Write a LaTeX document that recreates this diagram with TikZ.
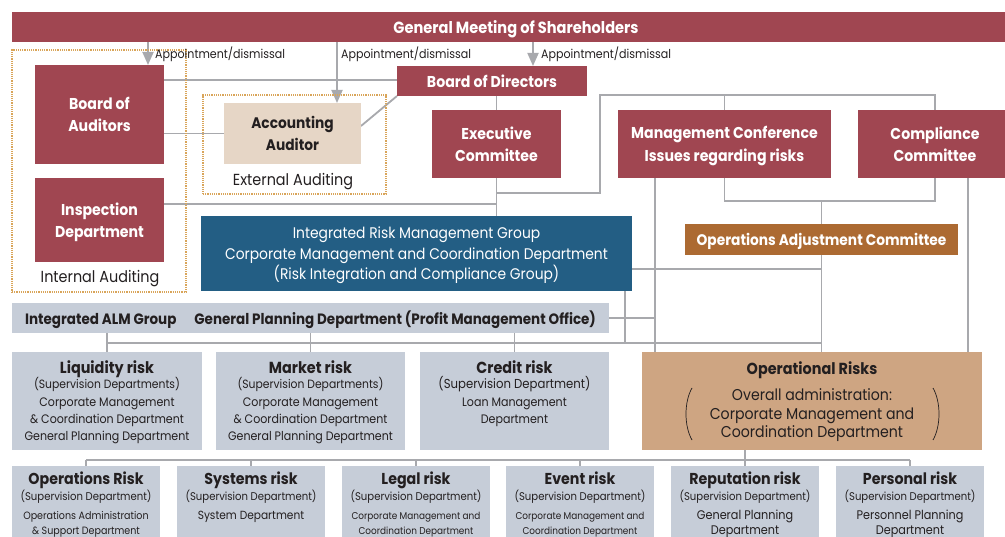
\documentclass[tikz,border=0pt]{standalone}
\usepackage{fontspec}
\setmainfont[FakeStretch=0.9]{Poppins}
\usetikzlibrary{arrows.meta,backgrounds}
\definecolor{maroon}{HTML}{A04651}
\definecolor{beige}{HTML}{E6D6C6}
\definecolor{rblue}{HTML}{235E84}
\definecolor{oadj}{HTML}{AC6A32}
\definecolor{oprc}{HTML}{CEA582}
\definecolor{gbox}{HTML}{C6CDD8}
\definecolor{lgrey}{HTML}{A8A9AD}
\definecolor{dotc}{HTML}{D9A55A}
\definecolor{ink}{HTML}{231F20}
\newcommand\rttl[1]{{\fontsize{16}{18}\selectfont\bfseries #1}}
\newcommand\bttl[1]{{\fontsize{15.8}{18}\selectfont\bfseries #1}}
\newcommand\rsub[1]{{\fontsize{12}{14}\selectfont #1}}
\newcommand\bsub[1]{{\fontsize{11.2}{14}\selectfont #1}}
\newcommand\fsz[2]{{\fontsize{#1}{15}\selectfont #2}}
\begin{document}
\begin{tikzpicture}[x=1pt,y=-1pt,
  conn/.style={draw=lgrey,line width=1.8pt},
  arr/.style={draw=lgrey,line width=1.8pt,-{Triangle[width=11pt,length=13pt]}},
  boxbase/.style={inner sep=0pt,outer sep=0pt,align=center},
  mbox/.style={boxbase,fill=maroon,text=white,text depth=0pt,font=\fontsize{15.7}{22.5}\selectfont\bfseries},
  gbx/.style={boxbase,fill=gbox},
  rtxt/.style={boxbase,anchor=north,text=ink,font=\fontsize{12.3}{16.5}\selectfont},
  btxt/.style={boxbase,anchor=north,text=ink,font=\fontsize{11}{15}\selectfont},
  lbl/.style={inner sep=0pt,text=ink,font=\fontsize{12.3}{13}\selectfont},
  audlbl/.style={inner sep=0pt,text=ink,font=\fontsize{16}{18}\selectfont},
  frame/.style={draw=dotc,densely dotted,line width=1.2pt,inner sep=0pt}
]
\useasboundingbox (0,0) rectangle (1005,537);

% frames
\node[frame,minimum width=174pt,minimum height=242pt] (intf) at (99,171) {};
\node[frame,minimum width=183pt,minimum height=99pt] (extf) at (294.5,144.5) {};

% top
\node[mbox,font=\fontsize{16.2}{20}\selectfont\bfseries,minimum width=1008pt,minimum height=30pt] (gms) at (516,27) {General Meeting of Shareholders};
\node[lbl,anchor=west] (ap1) at (155,54.5) {Appointment/dismissal};
\node[lbl,anchor=west] (ap2) at (341,54.5) {Appointment/dismissal};
\node[lbl,anchor=west] (ap3) at (541,54.5) {Appointment/dismissal};

\node[mbox,minimum width=129pt,minimum height=99pt] (boa) at (99.5,114.5) {Board of\\Auditors};
\node[mbox,minimum width=129pt,minimum height=84pt] (insp) at (99.5,220) {Inspection\\Department};
\node[audlbl] (ialab) at (100,279) {Internal Auditing};
\node[boxbase,fill=beige,text=ink,text depth=0pt,font=\fontsize{15.3}{22}\selectfont\bfseries,minimum width=137pt,minimum height=61pt] (acc) at (292.5,133.5) {Accounting\\Auditor};
\node[audlbl] (ealab) at (293,181.5) {External Auditing};

\node[mbox,minimum width=190pt,minimum height=30pt] (bod) at (492,81) {Board of Directors};
\node[mbox,minimum width=129pt,minimum height=68pt] (exec) at (496.5,144) {Executive\\Committee};
\node[mbox,minimum width=213pt,minimum height=68pt] (mc) at (724.5,144) {Management Conference\\Issues regarding risks};
\node[mbox,minimum width=154pt,minimum height=68pt] (cc) at (935,144) {Compliance\\Committee};

\node[boxbase,fill=rblue,text=white,text depth=0pt,font=\fontsize{15.4}{20.5}\selectfont,minimum width=431pt,minimum height=75pt] (irm) at (416.5,253.5) {Integrated Risk Management Group\\Corporate Management and Coordination Department\\(Risk Integration and Compliance Group)};
\node[boxbase,fill=oadj,text=white,text depth=0pt,font=\fontsize{15.3}{17}\selectfont\bfseries,minimum width=273pt,minimum height=31pt] (oac) at (821.5,239.5) {Operations Adjustment Committee};

\node[gbx,text=ink,text depth=0pt,font=\fontsize{15}{17}\selectfont\bfseries,minimum width=597pt,minimum height=30pt] (alm) at (310.5,318) {Integrated ALM Group\hspace{18pt}General Planning Department (Profit Management Office)};

% middle row
\node[gbx,minimum width=190pt,minimum height=98pt] (liq) at (107,401) {};
\node[gbx,minimum width=189pt,minimum height=98pt] (mkt) at (310.5,401) {};
\node[gbx,minimum width=189pt,minimum height=98pt] (cred) at (514.5,401) {};
\node[boxbase,fill=oprc,minimum width=340pt,minimum height=98pt] (opr) at (812,401) {};
\node[rtxt] (liqt) at (107,361) {\rttl{Liquidity risk}\\[-2pt]\rsub{(Supervision Departments)}\\[2pt]Corporate Management\\\& Coordination Department\\[1pt]General Planning Department};
\node[rtxt] (mktt) at (310.5,361) {\rttl{Market risk}\\[-2pt]\rsub{(Supervision Departments)}\\[2pt]Corporate Management\\\& Coordination Department\\[1pt]General Planning Department};
\node[rtxt] (credt) at (514.5,361) {\rttl{Credit risk}\\[-2pt]{\fontsize{13}{14}\selectfont(Supervision Department)}\\[2pt]Loan Management\\Department};
\node[boxbase,anchor=north,text=ink,font=\fontsize{15.7}{18.5}\selectfont] (oprt) at (812,361.5) {{\fontsize{16}{18}\selectfont\bfseries Operational Risks}\\[8pt]Overall administration:\\Corporate Management and\\Coordination Department};
\draw[ink,line width=0.7pt] (692,388) .. controls (684,402) and (684,426) .. (692,440);
\draw[ink,line width=0.7pt] (933,388) .. controls (941,402) and (941,426) .. (933,440);

% bottom row
\node[gbx,minimum width=148pt,minimum height=79pt] (ops) at (86,505.5) {};
\node[gbx,minimum width=148pt,minimum height=79pt] (sys) at (251,505.5) {};
\node[gbx,minimum width=148pt,minimum height=79pt] (leg) at (416,505.5) {};
\node[gbx,minimum width=148pt,minimum height=79pt] (evt) at (580,505.5) {};
\node[gbx,minimum width=148pt,minimum height=79pt] (rep) at (745,505.5) {};
\node[gbx,minimum width=148pt,minimum height=79pt] (per) at (910,505.5) {};
\node[btxt] (opst) at (86,471.5) {\bttl{Operations Risk}\\[1pt]\bsub{(Supervision Department)}\\[4pt]\fsz{10.6}{Operations Administration}\\\fsz{10.6}{\& Support Department}};
\node[btxt] (syst) at (251,471.5) {\bttl{Systems risk}\\[1pt]\bsub{(Supervision Department)}\\[4pt]\fsz{11.8}{System Department}};
\node[btxt] (legt) at (416,471.5) {\bttl{Legal risk}\\[1pt]\bsub{(Supervision Department)}\\[4pt]\fsz{9.9}{Corporate Management and}\\\fsz{9.9}{Coordination Department}};
\node[btxt] (evtt) at (580,471.5) {\bttl{Event risk}\\[1pt]\bsub{(Supervision Department)}\\[4pt]\fsz{9.9}{Corporate Management and}\\\fsz{9.9}{Coordination Department}};
\node[btxt] (rept) at (745,471.5) {\bttl{Reputation risk}\\[1pt]\bsub{(Supervision Department)}\\[4pt]\fsz{12.5}{General Planning}\\\fsz{12.5}{Department}};
\node[btxt] (pert) at (910,471.5) {\bttl{Personal risk}\\[1pt]\bsub{(Supervision Department)}\\[4pt]\fsz{12.5}{Personnel Planning}\\\fsz{12.5}{Department}};

% helper coordinates
\coordinate (c148) at (148,0);
\coordinate (c337) at (337,0);
\coordinate (c533) at (533,0);
\coordinate (y80) at (0,80);
\coordinate (j193) at (496.5,193);
\coordinate (j204) at (496.5,204);
\coordinate (k1) at (600,95);
\coordinate (k2) at (935,201);
\coordinate (c655) at (655,0);
\coordinate (c968) at (968,0);
\coordinate (c625) at (625,0);
\coordinate (y269) at (0,269);
\coordinate (y343) at (0,343);
\coordinate (y460) at (0,460);

\begin{scope}[on background layer]
\draw[arr] (gms.south -| c148) -- (boa.north -| c148);
\draw[arr] (gms.south -| c337) -- (acc.north -| c337);
\draw[arr] (gms.south -| c533) -- (bod.north -| c533);
\draw[conn] (boa.east |- y80) -- (bod.west |- y80);
\draw[conn] (boa.east |- acc.west) -- (acc.west);
\draw[conn] ([yshift=7.5pt]acc.east) -- (bod.south west);
\draw[conn] (bod.south -| exec.north) -- (exec.north);
\draw[conn] (exec.south) -- (exec.south |- irm.north);
\draw[conn] (insp.east |- j204) -- (j204);
\draw[conn] (j193) -| (k1) -| (cc.north);
\draw[conn] (mc.north) -- (mc.north |- k1);
\draw[conn] (mc.south -| c655) -- (opr.north -| c655);
\draw[conn] (mc.south) |- (k2) -- (cc.south);
\draw[conn] (oac.north |- k2) -- (oac.north);
\draw[conn] (oac.south) -- (oac.south |- opr.north);
\draw[conn] (cc.south -| c968) -- (opr.north -| c968);
\draw[conn] (irm.east |- y269) -- (oac.south |- y269);
\draw[conn] (irm.south -| c625) -- (c625 |- y343);
\draw[conn] (alm.east) -- (alm.east -| c655);
\draw[conn] (liq.north |- y343) -- (oac.south |- y343);
\draw[conn] (alm.south -| liq.north) -- (liq.north);
\draw[conn] (alm.south -| mkt.north) -- (mkt.north);
\draw[conn] (alm.south -| cred.north) -- (cred.north);
\draw[conn] (ops.north |- y460) -- (per.north |- y460);
\draw[conn] (ops.north |- y460) -- (ops.north);
\draw[conn] (sys.north |- y460) -- (sys.north);
\draw[conn] (leg.north |- y460) -- (leg.north);
\draw[conn] (evt.north |- y460) -- (evt.north);
\draw[conn] (opr.south -| rep.north) -- (rep.north);
\draw[conn] (per.north |- y460) -- (per.north);
\end{scope}
\end{tikzpicture}
\end{document}
